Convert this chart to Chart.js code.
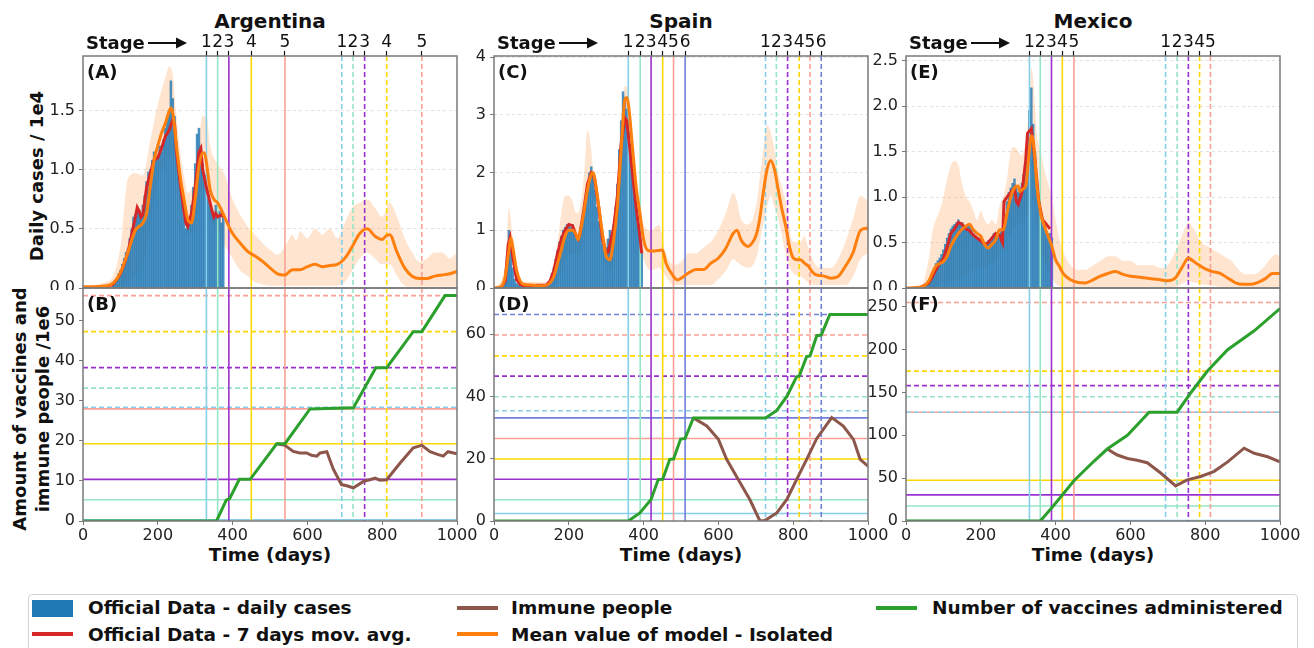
<!DOCTYPE html>
<html>
<head>
<meta charset="utf-8">
<title>Daily cases and vaccination by stage</title>
<script src="https://cdn.jsdelivr.net/npm/chart.js@4.4.1/dist/chart.umd.min.js"></script>
<style>
  html, body { margin: 0; padding: 0; background: #fff; }
  body { position: relative; width: 1314px; height: 648px; overflow: hidden;
         font-family: 'DejaVu Sans', sans-serif; color: #111; }
  canvas { position: absolute; }
  .lbl { position: absolute; font-weight: bold; white-space: nowrap; line-height: 1;
         transform: translate(-50%, -50%); }
  .title { font-size: 20px; }
  .xt { font-size: 18.5px; }
  .yt { font-size: 18px; text-align: center; line-height: 23px;
        transform: translate(-50%, -50%) rotate(-90deg); }
  .stage { position: absolute; font-weight: bold; font-size: 18px; line-height: 1;
           transform: translateY(-50%); white-space: nowrap; }
  .stage svg { position: absolute; left: 62px; top: 50%; margin-top: -7px; }
  #legend { position: absolute; left: 28px; top: 594px; width: 1268px; height: 80px;
            border: 1px solid #d4d4d4; border-radius: 4px; }
  .li { position: absolute; font-weight: bold; font-size: 18.5px; line-height: 1;
        transform: translateY(-50%); white-space: nowrap; }
  .sw { position: absolute; width: 41px; height: 4px; }
</style>
</head>
<body>

<div class="lbl title" style="left:270px; top:21px">Argentina</div>
<div class="lbl title" style="left:681px; top:21px">Spain</div>
<div class="lbl title" style="left:1093px; top:21px">Mexico</div>

<div class="lbl yt" style="left:36px; top:176px">Daily cases / 1e4</div>
<div class="lbl yt" style="left:31px; top:409px">Amount of vaccines and<br>immune people /1e6</div>

<div class="lbl xt" style="left:270px; top:555px">Time (days)</div>
<div class="lbl xt" style="left:681px; top:555px">Time (days)</div>
<div class="lbl xt" style="left:1093px; top:555px">Time (days)</div>

<div id="legend"></div>
<div style="position:absolute; left:32px; top:600px; width:41px; height:17px; background:#1f77b4"></div>
<div class="li" style="left:88px; top:608px">Official Data - daily cases</div>
<div class="sw" style="left:32px; top:632px; background:#d62728"></div>
<div class="li" style="left:88px; top:635px">Official Data - 7 days mov. avg.</div>
<div class="sw" style="left:457px; top:606px; background:#8c564b"></div>
<div class="li" style="left:511px; top:608px">Immune people</div>
<div class="sw" style="left:457px; top:632px; background:#ff7f0e"></div>
<div class="li" style="left:511px; top:635px">Mean value of model - Isolated</div>
<div class="sw" style="left:876px; top:606px; background:#2ca02c"></div>
<div class="li" style="left:932px; top:608px">Number of vaccines administered</div>

<script>
// ---------- shared ----------
const X_TICKS = [0, 200, 400, 600, 800, 1000];
const STAGE_COLORS = ['#87ceeb', '#96e6c6', '#9b30d0', '#ffd700', '#f9a196', '#7080d8'];

// ---------- Argentina ----------
const ARG_STAGE_1 = [330, 360, 390, 450, 540];
const ARG_STAGE_2 = [692, 722, 753, 812, 906];
const ARG_STAGE_LABELS = ['1', '2', '3', '4', '5', '1', '2', '3', '4', '5'];
const ARG_LEVEL_1 = [0.3, 5.3, 10.4, 19.3, 28.0];
const ARG_LEVEL_2 = [28.4, 33.2, 38.3, 47.3, 56.3];
const ARG_TOP_TICKS = [0, 0.5, 1.0, 1.5];
const ARG_BOT_TICKS = [0, 10, 20, 30, 40, 50];

const ARG_BAR_T = [80, 85, 90, 95, 100, 105, 110, 115, 120, 125, 130, 135, 140, 145, 150, 155, 160, 165, 170, 175,
  180, 185, 190, 195, 200, 205, 210, 215, 220, 225, 230, 235, 240, 245, 250, 255, 260, 265, 270, 275,
  280, 285, 290, 295, 300, 305, 310, 315, 320, 325, 330, 335, 340, 345, 350, 355, 360, 365, 370, 375];
const ARG_BAR_Y = [0.03, 0.05, 0.08, 0.12, 0.15, 0.2, 0.25, 0.3, 0.33, 0.42, 0.5, 0.6, 0.62, 0.68, 0.66, 0.62, 0.7, 0.78, 0.9, 0.98,
  1.0, 1.08, 1.15, 1.1, 1.12, 1.2, 1.15, 1.25, 1.35, 1.42, 1.5, 1.75, 1.6, 1.45, 1.2, 1.0, 0.85, 0.75, 0.6, 0.5,
  0.55, 0.6, 0.7, 0.85, 1.05, 1.3, 1.35, 1.2, 1.05, 0.95, 0.85, 0.75, 0.7, 0.65, 0.6, 0.7, 0.6, 0.65, 0.55, 0.6];

const ARG_AVG_T = [60, 80, 90, 100, 110, 120, 130, 140, 145, 150, 155, 160, 170, 180, 190, 200, 210, 220, 230, 240,
  245, 250, 260, 270, 275, 280, 290, 300, 310, 315, 320, 330, 340, 345, 350, 355, 360, 370, 375];
const ARG_AVG_Y = [0.01, 0.03, 0.07, 0.12, 0.2, 0.3, 0.45, 0.6, 0.68, 0.65, 0.6, 0.62, 0.85, 0.97, 1.08, 1.1, 1.18, 1.28, 1.33, 1.42,
  1.38, 1.15, 0.88, 0.65, 0.55, 0.52, 0.63, 0.85, 1.15, 1.18, 1.0, 0.85, 0.72, 0.65, 0.6, 0.63, 0.6, 0.62, 0.6];

const ARG_MEAN_T = [0, 50, 80, 100, 120, 140, 150, 160, 170, 180, 190, 200, 210, 220, 230, 235, 240, 250, 260, 270,
  280, 290, 300, 310, 320, 325, 330, 340, 350, 360, 370, 380, 390, 400, 420, 440, 460, 480, 500, 520,
  540, 560, 580, 600, 620, 640, 660, 680, 700, 720, 740, 760, 780, 800, 810, 820, 840, 860, 880, 900,
  920, 940, 960, 980, 1000];
const ARG_MEAN_Y = [0.01, 0.015, 0.04, 0.13, 0.3, 0.49, 0.52, 0.55, 0.63, 0.86, 1.08, 1.2, 1.31, 1.39, 1.49, 1.52, 1.48, 1.2, 0.94, 0.75,
  0.58, 0.55, 0.75, 1.03, 1.14, 1.14, 1.06, 0.83, 0.75, 0.72, 0.66, 0.59, 0.52, 0.46, 0.38, 0.31, 0.27, 0.225, 0.17, 0.12,
  0.11, 0.155, 0.155, 0.18, 0.2, 0.18, 0.19, 0.2, 0.25, 0.35, 0.46, 0.5, 0.44, 0.41, 0.44, 0.45, 0.3, 0.17, 0.1, 0.08,
  0.08, 0.1, 0.11, 0.12, 0.14];

const ARG_BAND_T = [0, 60, 80, 100, 120, 140, 160, 180, 200, 220, 230, 240, 250, 260, 270, 280, 300, 320, 330, 340,
  360, 380, 400, 420, 440, 460, 480, 500, 520, 540, 560, 570, 580, 600, 620, 640, 660, 680, 700, 720,
  740, 760, 780, 800, 820, 840, 860, 880, 900, 920, 940, 960, 980, 1000];
const ARG_BAND_HI = [0.01, 0.05, 0.1, 0.35, 0.92, 0.97, 0.95, 1.25, 1.55, 1.78, 1.87, 1.8, 1.45, 1.15, 0.95, 0.8, 0.95, 1.45, 1.45, 1.2,
  1.05, 0.95, 0.75, 0.62, 0.52, 0.45, 0.38, 0.32, 0.28, 0.35, 0.45, 0.4, 0.48, 0.42, 0.5, 0.45, 0.5, 0.42, 0.55, 0.68,
  0.72, 0.75, 0.68, 0.6, 0.72, 0.6, 0.42, 0.3, 0.22, 0.25, 0.3, 0.3, 0.25, 0.3];
const ARG_BAND_LO = [0, 0, 0, 0, 0.05, 0.1, 0.2, 0.55, 0.9, 1.05, 1.1, 1.15, 1.0, 0.75, 0.6, 0.45, 0.55, 0.85, 0.8, 0.6,
  0.5, 0.35, 0.25, 0.15, 0.1, 0.05, 0.03, 0.02, 0.02, 0.02, 0.02, 0.02, 0.02, 0.02, 0.02, 0.02, 0.02, 0.02, 0.05, 0.15,
  0.25, 0.3, 0.25, 0.2, 0.2, 0.1, 0.02, 0.01, 0.01, 0.01, 0.01, 0.01, 0.01, 0.01];

const ARG_VAC_T = [0, 357, 383, 392, 418, 447, 518, 540, 607, 723, 783, 812, 883, 906, 968, 1000];
const ARG_VAC_Y = [0, 0, 5.2, 5.6, 10.4, 10.4, 19.3, 19.3, 28.0, 28.3, 38.3, 38.3, 47.3, 47.3, 56.3, 56.3];
const ARG_IMM_T = [518, 540, 562, 580, 598, 611, 625, 634, 652, 669, 691, 705, 723, 750, 767, 781, 794, 812, 848, 883,
  906, 928, 946, 963, 976, 1000];
const ARG_IMM_Y = [19.3, 18.9, 17.4, 17.0, 17.0, 16.4, 16.2, 17.0, 17.3, 13.0, 9.1, 8.8, 8.3, 9.9, 10.3, 10.7, 10.2, 10.3, 14.5, 18.3,
  18.9, 17.3, 16.7, 16.2, 17.3, 16.8];

// ---------- Spain ----------
const ESP_STAGE_1 = [359, 391, 420, 451, 480, 511];
const ESP_STAGE_2 = [726, 755, 785, 816, 845, 875];
const ESP_STAGE_LABELS = ['1', '2', '3', '4', '5', '6', '1', '2', '3', '4', '5', '6'];
const ESP_LEVEL_1 = [2.4, 6.8, 13.4, 19.9, 26.5, 33.1];
const ESP_LEVEL_2 = [35.4, 39.9, 46.5, 53.0, 59.7, 66.3];
const ESP_TOP_TICKS = [0, 1, 2, 3, 4];
const ESP_BOT_TICKS = [0, 20, 40, 60];

const ESP_BAR_T = [20, 25, 30, 35, 40, 45, 50, 55, 60, 65, 70, 75, 80, 85, 90, 95, 100, 105, 110, 115,
  120, 125, 130, 135, 140, 145, 150, 155, 160, 165, 170, 175, 180, 185, 190, 195, 200, 205, 210, 215,
  220, 225, 230, 235, 240, 245, 250, 255, 260, 265, 270, 275, 280, 285, 290, 295, 300, 305, 310, 315,
  320, 325, 330, 335, 340, 345, 350, 355, 360, 365, 370, 375, 380, 385, 390, 395];
const ESP_BAR_Y = [0.02, 0.05, 0.15, 0.5, 1.0, 0.7, 0.35, 0.15, 0.08, 0.05, 0.04, 0.03, 0.03, 0.03, 0.03, 0.03, 0.03, 0.03, 0.03, 0.03,
  0.03, 0.03, 0.04, 0.05, 0.06, 0.1, 0.15, 0.25, 0.35, 0.5, 0.65, 0.8, 0.9, 1.0, 1.05, 1.1, 1.1, 1.05, 1.1, 1.0,
  0.85, 0.8, 0.9, 1.1, 1.3, 1.5, 1.75, 2.0, 2.1, 1.95, 1.7, 1.4, 1.15, 0.95, 0.75, 0.65, 0.7, 0.85, 1.0, 0.9,
  1.1, 1.4, 1.8, 2.4, 2.9, 3.4, 3.3, 3.1, 2.7, 2.5, 2.1, 1.8, 1.4, 1.1, 0.85, 0.6];

const ESP_AVG_T = [20, 30, 38, 43, 50, 60, 70, 80, 140, 150, 160, 170, 180, 190, 200, 210, 220, 225, 230, 240,
  250, 260, 265, 270, 280, 290, 300, 305, 310, 320, 330, 340, 350, 355, 360, 370, 380, 390, 395];
const ESP_AVG_Y = [0.02, 0.12, 0.75, 0.87, 0.55, 0.15, 0.06, 0.04, 0.05, 0.12, 0.3, 0.6, 0.85, 1.0, 1.1, 1.08, 0.9, 0.85, 0.95, 1.35,
  1.8, 2.0, 1.98, 1.85, 1.4, 0.85, 0.6, 0.62, 0.75, 1.05, 1.6, 2.5, 2.95, 2.9, 2.6, 2.0, 1.4, 0.9, 0.6];

const ESP_MEAN_T = [0, 20, 30, 40, 45, 50, 60, 70, 80, 100, 120, 140, 150, 160, 170, 180, 190, 200, 210, 220,
  225, 230, 240, 250, 260, 265, 270, 280, 290, 300, 310, 320, 330, 340, 350, 355, 360, 370, 380, 390,
  400, 410, 420, 440, 450, 460, 480, 490, 500, 520, 540, 560, 580, 600, 620, 640, 650, 660, 670, 680,
  690, 700, 710, 720, 730, 740, 750, 760, 770, 780, 790, 800, 810, 820, 830, 840, 850, 860, 880, 900,
  920, 940, 960, 980, 1000];
const ESP_MEAN_Y = [0, 0.03, 0.2, 0.66, 0.87, 0.72, 0.32, 0.12, 0.06, 0.05, 0.04, 0.05, 0.09, 0.2, 0.43, 0.66, 0.9, 1.0, 1.0, 0.92,
  0.84, 0.95, 1.3, 1.7, 1.97, 2.0, 1.88, 1.42, 0.95, 0.55, 0.49, 0.84, 1.42, 2.4, 3.27, 3.3, 3.15, 2.46, 1.76, 1.3,
  0.84, 0.66, 0.64, 0.65, 0.66, 0.43, 0.2, 0.14, 0.17, 0.26, 0.32, 0.32, 0.43, 0.52, 0.69, 0.95, 1.0, 0.84, 0.75, 0.72,
  0.78, 0.9, 1.18, 1.65, 2.05, 2.21, 2.05, 1.7, 1.36, 1.07, 0.72, 0.52, 0.49, 0.49, 0.43, 0.38, 0.29, 0.23, 0.21, 0.17,
  0.2, 0.38, 0.61, 1.0, 1.04];

const ESP_BAND_T = [0, 30, 40, 50, 60, 70, 140, 150, 170, 180, 190, 200, 210, 220, 230, 240, 250, 260, 270, 280,
  290, 300, 310, 320, 330, 340, 350, 360, 370, 380, 390, 400, 420, 440, 460, 480, 500, 520, 540, 560,
  580, 600, 620, 640, 650, 660, 680, 700, 720, 730, 740, 750, 760, 780, 800, 820, 830, 840, 860, 880,
  900, 920, 940, 960, 980, 1000];
const ESP_BAND_HI = [0, 0.4, 1.39, 0.9, 0.4, 0.12, 0.1, 0.2, 0.8, 1.3, 1.6, 1.6, 1.5, 1.3, 1.4, 1.9, 2.74, 2.4, 1.7, 1.3,
  1.0, 0.85, 0.9, 1.2, 1.9, 2.8, 3.5, 3.4, 2.6, 1.9, 1.5, 1.1, 1.0, 1.1, 0.6, 0.4, 0.45, 0.6, 0.6, 0.7,
  0.8, 1.0, 1.3, 1.65, 1.5, 1.2, 1.1, 1.4, 2.4, 2.83, 2.7, 2.4, 2.0, 1.5, 0.8, 0.8, 0.9, 0.7, 0.4, 0.35,
  0.35, 0.5, 0.8, 1.2, 1.6, 1.5];
const ESP_BAND_LO = [0, 0, 0.3, 0.4, 0.1, 0.02, 0.02, 0.02, 0.1, 0.3, 0.5, 0.6, 0.6, 0.6, 0.6, 0.9, 1.3, 1.6, 1.5, 1.0,
  0.6, 0.35, 0.3, 0.5, 1.0, 1.8, 2.8, 2.6, 1.8, 1.2, 0.8, 0.5, 0.3, 0.35, 0.2, 0.05, 0.05, 0.05, 0.05, 0.05,
  0.05, 0.15, 0.3, 0.5, 0.45, 0.4, 0.35, 0.5, 1.1, 1.4, 1.6, 1.4, 1.2, 0.6, 0.25, 0.2, 0.15, 0.1, 0.05, 0.05,
  0.05, 0.05, 0.05, 0.2, 0.5, 0.6];

const ESP_VAC_T = [0, 359, 390, 420, 439, 451, 470, 480, 499, 511, 533, 726, 756, 783, 809, 816, 836, 845, 863, 875, 898, 1000];
const ESP_VAC_Y = [0, 0, 2.6, 6.9, 13.3, 13.4, 19.8, 19.9, 26.3, 26.5, 33.1, 33.1, 35.5, 40.0, 46.3, 46.5, 52.8, 53.0, 59.5, 59.7, 66.3, 66.3];
const ESP_IMM_T = [533, 569, 600, 622, 653, 684, 711, 725, 756, 783, 809, 836, 863, 903, 934, 961, 979, 1000];
const ESP_IMM_Y = [33.1, 30.5, 26.2, 19.8, 13.3, 6.9, 0, 0.2, 2.6, 6.9, 13.3, 19.8, 26.5, 33.2, 30.5, 26.2, 19.8, 17.6];

// ---------- Mexico ----------
const MEX_STAGE_1 = [330, 359, 389, 418, 449];
const MEX_STAGE_2 = [694, 725, 755, 785, 814];
const MEX_STAGE_LABELS = ['1', '2', '3', '4', '5', '1', '2', '3', '4', '5'];
const MEX_LEVEL_1 = [0.5, 17.5, 30.5, 47.5, 127];
const MEX_LEVEL_2 = [127, 145, 158, 175, 255];
const MEX_TOP_TICKS = [0, 0.5, 1.0, 1.5, 2.0, 2.5];
const MEX_BOT_TICKS = [0, 50, 100, 150, 200, 250];

const MEX_BAR_T = [40, 45, 50, 55, 60, 65, 70, 75, 80, 85, 90, 95, 100, 105, 110, 115, 120, 125, 130, 135,
  140, 145, 150, 155, 160, 165, 170, 175, 180, 185, 190, 195, 200, 205, 210, 215, 220, 225, 230, 235,
  240, 245, 250, 255, 260, 265, 270, 275, 280, 285, 290, 295, 300, 305, 310, 315, 320, 325, 330, 335,
  340, 345, 350, 355, 360, 365, 370, 375, 380, 385, 390];
const MEX_BAR_Y = [0.01, 0.02, 0.03, 0.05, 0.08, 0.12, 0.17, 0.22, 0.27, 0.3, 0.33, 0.37, 0.42, 0.48, 0.55, 0.6, 0.65, 0.68, 0.7, 0.72,
  0.75, 0.7, 0.72, 0.68, 0.66, 0.7, 0.68, 0.65, 0.6, 0.58, 0.55, 0.55, 0.52, 0.5, 0.48, 0.5, 0.52, 0.5, 0.55, 0.6,
  0.58, 0.55, 0.6, 0.62, 0.55, 0.7, 0.95, 1.05, 1.1, 1.15, 1.2, 1.1, 1.05, 1.1, 1.15, 1.25, 1.4, 1.7, 1.95, 2.2,
  1.8, 1.5, 1.1, 0.9, 0.8, 0.75, 0.7, 0.6, 0.55, 0.6, 0.55];

const MEX_AVG_T = [40, 60, 70, 80, 90, 100, 110, 120, 130, 140, 150, 160, 170, 180, 190, 200, 210, 220, 230, 240,
  250, 258, 262, 270, 280, 290, 295, 300, 310, 320, 325, 335, 345, 355, 365, 375, 385];
const MEX_AVG_Y = [0.01, 0.05, 0.12, 0.2, 0.27, 0.32, 0.45, 0.6, 0.65, 0.72, 0.7, 0.65, 0.63, 0.58, 0.55, 0.52, 0.48, 0.5, 0.55, 0.6,
  0.58, 0.5, 0.95, 1.0, 1.05, 1.1, 0.95, 0.92, 1.05, 1.4, 1.7, 1.75, 1.4, 0.95, 0.75, 0.7, 0.65];

const MEX_MEAN_T = [0, 40, 60, 70, 80, 90, 100, 110, 120, 140, 160, 170, 180, 190, 200, 210, 220, 230, 240, 250,
  260, 270, 280, 290, 300, 305, 310, 320, 330, 335, 340, 345, 350, 360, 370, 380, 390, 400, 410, 420,
  440, 460, 480, 500, 520, 540, 560, 580, 600, 620, 640, 660, 680, 700, 720, 740, 755, 760, 780, 800,
  820, 840, 860, 880, 900, 920, 940, 960, 980, 1000];
const MEX_MEAN_Y = [0, 0.01, 0.07, 0.16, 0.24, 0.27, 0.29, 0.35, 0.46, 0.6, 0.68, 0.7, 0.64, 0.6, 0.57, 0.48, 0.44, 0.48, 0.53, 0.64,
  0.64, 0.82, 1.0, 1.1, 1.12, 1.06, 1.08, 1.12, 1.52, 1.67, 1.63, 1.41, 1.12, 0.82, 0.68, 0.57, 0.46, 0.31, 0.24, 0.16,
  0.09, 0.06, 0.055, 0.09, 0.13, 0.16, 0.18, 0.15, 0.13, 0.12, 0.11, 0.1, 0.09, 0.08, 0.11, 0.24, 0.33, 0.32, 0.26, 0.21,
  0.18, 0.16, 0.11, 0.06, 0.04, 0.04, 0.06, 0.1, 0.16, 0.16];

const MEX_BAND_T = [0, 40, 60, 70, 80, 90, 100, 110, 120, 130, 140, 150, 160, 170, 180, 190, 200, 210, 220, 230,
  240, 250, 260, 270, 280, 290, 300, 310, 320, 330, 335, 340, 345, 350, 360, 370, 380, 390, 400, 410,
  420, 440, 460, 480, 500, 520, 540, 560, 580, 600, 620, 640, 660, 680, 700, 720, 740, 755, 770, 790,
  810, 830, 850, 870, 890, 910, 930, 950, 970, 990, 1000];
const MEX_BAND_HI = [0, 0.02, 0.3, 0.6, 0.75, 0.85, 1.0, 1.2, 1.35, 1.4, 1.35, 1.15, 1.0, 0.95, 0.85, 0.75, 0.85, 0.75, 0.7, 0.75,
  0.7, 0.9, 1.0, 1.2, 1.5, 1.55, 1.5, 1.45, 1.65, 2.0, 2.42, 2.3, 2.0, 1.7, 1.5, 1.3, 1.15, 1.0, 0.75, 0.55,
  0.4, 0.25, 0.2, 0.2, 0.25, 0.3, 0.35, 0.35, 0.3, 0.3, 0.25, 0.25, 0.25, 0.22, 0.25, 0.4, 0.6, 0.72, 0.65, 0.5,
  0.45, 0.4, 0.35, 0.3, 0.2, 0.15, 0.15, 0.2, 0.3, 0.37, 0.35];
const MEX_BAND_LO = [0, 0, 0, 0, 0.02, 0.03, 0.05, 0.06, 0.08, 0.09, 0.1, 0.12, 0.15, 0.17, 0.2, 0.21, 0.22, 0.23, 0.25, 0.27,
  0.3, 0.37, 0.45, 0.52, 0.6, 0.65, 0.7, 0.72, 0.75, 0.85, 0.92, 1.0, 0.9, 0.7, 0.4, 0.3, 0.2, 0.12, 0.05, 0.02,
  0.01, 0.01, 0.01, 0.01, 0.01, 0.01, 0.01, 0.01, 0.01, 0.01, 0.01, 0.01, 0.01, 0.01, 0.01, 0.01, 0.05, 0.08, 0.06, 0.04,
  0.03, 0.02, 0.01, 0.01, 0.01, 0.01, 0.01, 0.01, 0.01, 0.01, 0.01];

const MEX_VAC_T = [0, 359, 391, 419, 449, 503, 538, 592, 650, 725, 762, 806, 860, 931, 1000];
const MEX_VAC_Y = [0, 0, 16, 31, 47, 70, 84, 100, 127, 127, 150, 175, 200, 222, 248];
const MEX_IMM_T = [538, 565, 592, 618, 645, 681, 721, 752, 788, 824, 860, 904, 931, 967, 1000];
const MEX_IMM_Y = [84, 77, 73, 71, 68, 56, 41, 48, 52, 58, 69, 85, 79, 75, 69];

// ---------- panels ----------
const PANELS = [
  { left: 83, letters: ['(A)', '(B)'], topMax: 1.96, botMax: 58.2, dec: 1,
    stage1: ARG_STAGE_1, stage2: ARG_STAGE_2, stageLabels: ARG_STAGE_LABELS, level1: ARG_LEVEL_1, level2: ARG_LEVEL_2,
    topTicks: ARG_TOP_TICKS, botTicks: ARG_BOT_TICKS,
    barT: ARG_BAR_T, barY: ARG_BAR_Y, avgT: ARG_AVG_T, avgY: ARG_AVG_Y, meanT: ARG_MEAN_T, meanY: ARG_MEAN_Y,
    bandT: ARG_BAND_T, bandHi: ARG_BAND_HI, bandLo: ARG_BAND_LO,
    vacT: ARG_VAC_T, vacY: ARG_VAC_Y, immT: ARG_IMM_T, immY: ARG_IMM_Y },
  { left: 494, letters: ['(C)', '(D)'], topMax: 4.02, botMax: 74.8, dec: 0,
    stage1: ESP_STAGE_1, stage2: ESP_STAGE_2, stageLabels: ESP_STAGE_LABELS, level1: ESP_LEVEL_1, level2: ESP_LEVEL_2,
    topTicks: ESP_TOP_TICKS, botTicks: ESP_BOT_TICKS,
    barT: ESP_BAR_T, barY: ESP_BAR_Y, avgT: ESP_AVG_T, avgY: ESP_AVG_Y, meanT: ESP_MEAN_T, meanY: ESP_MEAN_Y,
    bandT: ESP_BAND_T, bandHi: ESP_BAND_HI, bandLo: ESP_BAND_LO,
    vacT: ESP_VAC_T, vacY: ESP_VAC_Y, immT: ESP_IMM_T, immY: ESP_IMM_Y },
  { left: 906, letters: ['(E)', '(F)'], topMax: 2.55, botMax: 272, dec: 1,
    stage1: MEX_STAGE_1, stage2: MEX_STAGE_2, stageLabels: MEX_STAGE_LABELS, level1: MEX_LEVEL_1, level2: MEX_LEVEL_2,
    topTicks: MEX_TOP_TICKS, botTicks: MEX_BOT_TICKS,
    barT: MEX_BAR_T, barY: MEX_BAR_Y, avgT: MEX_AVG_T, avgY: MEX_AVG_Y, meanT: MEX_MEAN_T, meanY: MEX_MEAN_Y,
    bandT: MEX_BAND_T, bandHi: MEX_BAND_HI, bandLo: MEX_BAND_LO,
    vacT: MEX_VAC_T, vacY: MEX_VAC_Y, immT: MEX_IMM_T, immY: MEX_IMM_Y }
];

const PLOT_W = 374;
const AXIS_W = 60;

Chart.defaults.font.family = "'DejaVu Sans', sans-serif";
Chart.defaults.font.size = 16;
Chart.defaults.color = '#222';

const pts = (xs, ys) => xs.map((x, i) => ({ x: x, y: ys[i] }));
const setTicks = (vals) => (s) => { s.ticks = vals.map(v => ({ value: v })); };

function drawStages(chart, p) {
  const { ctx, chartArea: a, scales } = chart;
  const x = scales.x;
  ctx.save();
  ctx.beginPath();
  ctx.rect(a.left, a.top, a.right - a.left, a.bottom - a.top);
  ctx.clip();
  ctx.lineWidth = 1.6;
  [p.stage1, p.stage2].forEach((wave, w) => {
    ctx.setLineDash(w ? [5, 3] : []);
    wave.forEach((d, i) => {
      const px = x.getPixelForValue(d);
      ctx.strokeStyle = STAGE_COLORS[i];
      ctx.beginPath();
      ctx.moveTo(px, a.top);
      ctx.lineTo(px, a.bottom);
      ctx.stroke();
    });
  });
  ctx.restore();
}

function drawLevels(chart, p) {
  const { ctx, chartArea: a, scales } = chart;
  const y = scales.y;
  ctx.save();
  ctx.lineWidth = 1.6;
  [p.level1, p.level2].forEach((wave, w) => {
    ctx.setLineDash(w ? [5, 3] : []);
    wave.forEach((v, i) => {
      const py = y.getPixelForValue(v);
      ctx.strokeStyle = STAGE_COLORS[i];
      ctx.beginPath();
      ctx.moveTo(a.left, py);
      ctx.lineTo(a.right, py);
      ctx.stroke();
    });
  });
  ctx.restore();
}

function framePlugin(p, part) {
  return {
    id: 'panel' + part,
    beforeDatasetsDraw(chart) {
      if (part === 'bottom') { drawLevels(chart, p); drawStages(chart, p); }
    },
    afterDatasetDraw(chart, args) {
      // stage lines go over the bars, under the two curves
      if (part === 'top' && args.index === 0) drawStages(chart, p);
    },
    afterDraw(chart) {
      const a = chart.chartArea, ctx = chart.ctx;
      ctx.save();
      ctx.strokeStyle = '#7a7a7a';
      ctx.lineWidth = 1.5;
      ctx.strokeRect(a.left, a.top, a.right - a.left, a.bottom - a.top);
      ctx.fillStyle = '#111';
      ctx.font = "bold 18px 'DejaVu Sans'";
      ctx.textBaseline = 'middle';
      ctx.fillText(part === 'top' ? p.letters[0] : p.letters[1], a.left + 4, a.top + 17);
      ctx.restore();
    }
  };
}

function makeCanvas(left, top) {
  const c = document.createElement('canvas');
  c.width = AXIS_W + PLOT_W + 24;
  c.height = 270;
  c.style.left = left + 'px';
  c.style.top = top + 'px';
  c.style.width = c.width + 'px';
  c.style.height = c.height + 'px';
  document.body.appendChild(c);
  return c;
}

function addStageLabel(p) {
  const d = document.createElement('div');
  d.className = 'stage';
  d.style.left = (p.left + 3) + 'px';
  d.style.top = '43px';
  d.innerHTML = 'Stage<svg width="40" height="14" viewBox="0 0 40 14">' +
    '<line x1="0" y1="7" x2="30" y2="7" stroke="#111" stroke-width="2"/>' +
    '<polygon points="28,1.5 39,7 28,12.5" fill="#111"/></svg>';
  document.body.appendChild(d);
}

const baseOpts = {
  responsive: false,
  animation: false,
  events: [],
  plugins: { legend: { display: false }, tooltip: { enabled: false } }
};

function buildTop(p) {
  const canvas = makeCanvas(p.left - AXIS_W, 20);
  new Chart(canvas, {
    type: 'line',
    data: {
      datasets: [
        { type: 'bar', data: pts(p.barT, p.barY), backgroundColor: 'rgba(31,119,180,0.8)',
          borderWidth: 0, barPercentage: 1, categoryPercentage: 1, order: 3 },
        { data: pts(p.bandT, p.bandLo), borderWidth: 0, pointRadius: 0, fill: false, order: 5,
          cubicInterpolationMode: 'monotone' },
        { data: pts(p.bandT, p.bandHi), borderWidth: 0, pointRadius: 0, fill: '-1', order: 4,
          backgroundColor: 'rgba(255,127,14,0.2)', cubicInterpolationMode: 'monotone' },
        { data: pts(p.avgT, p.avgY), borderColor: '#d62728', borderWidth: 3, pointRadius: 0, order: 2 },
        { data: pts(p.meanT, p.meanY), borderColor: '#ff7f0e', borderWidth: 3, pointRadius: 0, order: 1,
          cubicInterpolationMode: 'monotone' }
      ]
    },
    options: Object.assign({}, baseOpts, {
      layout: { padding: { top: 0, left: 0, right: 24, bottom: 2 } },
      scales: {
        x: { type: 'linear', min: 0, max: 1000, display: false, offset: false, grid: { offset: false } },
        x2: { type: 'linear', position: 'top', min: 0, max: 1000, offset: false,
          afterBuildTicks: setTicks(p.stage1.concat(p.stage2)),
          afterFit: s => { s.height = 36; s.paddingLeft = 0; s.paddingRight = 0; },
          ticks: { autoSkip: false, maxRotation: 0, padding: -2, color: '#111', font: { size: 17 },
                   callback: (v, i) => p.stageLabels[i] },
          grid: { drawOnChartArea: false, tickLength: 5, tickColor: '#111', tickWidth: 1.2 },
          border: { display: false } },
        y: { type: 'linear', min: 0, max: p.topMax,
          afterBuildTicks: setTicks(p.topTicks),
          afterFit: s => { s.width = AXIS_W; s.paddingTop = 0; s.paddingBottom = 0; },
          ticks: { padding: 4, callback: v => v.toFixed(p.dec) },
          grid: { color: '#dadada', lineWidth: 0.8, tickLength: 4, tickColor: '#777', tickWidth: 1 },
          border: { display: false, dash: [3, 3] } }
      }
    }),
    plugins: [framePlugin(p, 'top')]
  });
}

function buildBottom(p) {
  const canvas = makeCanvas(p.left - AXIS_W, 280);
  new Chart(canvas, {
    type: 'line',
    data: {
      datasets: [
        { data: pts(p.immT, p.immY), borderColor: '#8c564b', borderWidth: 3, pointRadius: 0, order: 2 },
        { data: pts(p.vacT, p.vacY), borderColor: '#2ca02c', borderWidth: 3, pointRadius: 0, order: 1 }
      ]
    },
    options: Object.assign({}, baseOpts, {
      layout: { padding: { top: 8, left: 0, right: 24, bottom: 0 } },
      scales: {
        x: { type: 'linear', min: 0, max: 1000, offset: false,
          afterBuildTicks: setTicks(X_TICKS),
          afterFit: s => { s.height = 29; s.paddingLeft = 0; s.paddingRight = 0; },
          ticks: { padding: 1, maxRotation: 0, autoSkip: false, callback: v => String(v) },
          grid: { drawOnChartArea: false, tickLength: 4, tickColor: '#777' },
          border: { display: false } },
        y: { type: 'linear', min: 0, max: p.botMax,
          afterBuildTicks: setTicks(p.botTicks),
          afterFit: s => { s.width = AXIS_W; s.paddingTop = 0; s.paddingBottom = 0; },
          ticks: { padding: 4, callback: v => String(v) },
          grid: { drawOnChartArea: false, tickLength: 4, tickColor: '#777' },
          border: { display: false } }
      }
    }),
    plugins: [framePlugin(p, 'bottom')]
  });
}

PANELS.forEach(p => { buildTop(p); addStageLabel(p); });
PANELS.forEach(buildBottom);
</script>
</body>
</html>
